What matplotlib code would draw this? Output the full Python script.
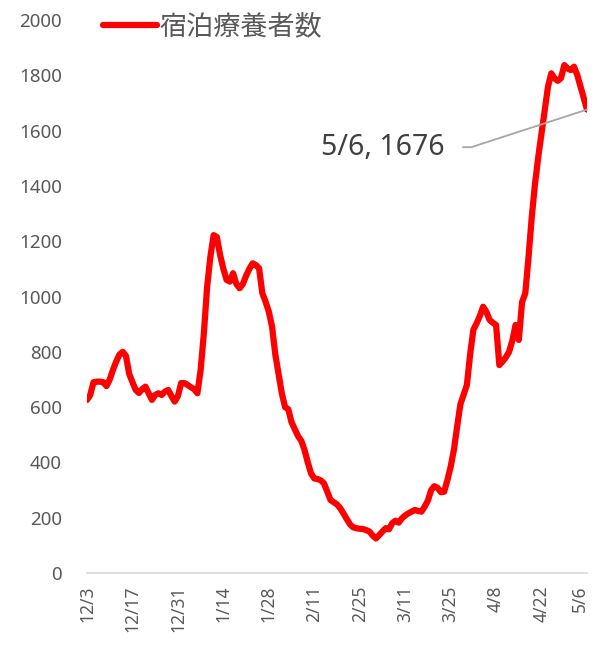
import numpy as np
import matplotlib
matplotlib.use("Agg")
import matplotlib.pyplot as plt
import matplotlib.transforms as mtransforms

plt.rcParams["font.family"] = ["Noto Sans", "Noto Sans CJK JP", "DejaVu Sans"]

# daily values, 12/3 .. 5/6
values = [
    626, 644, 690, 692, 692, 690, 676, 700, 735, 765,
    790, 800, 785, 720, 690, 662, 651, 665, 674, 650,
    626, 644, 650, 644, 656, 662, 640, 620, 640, 687,
    687, 680, 672, 665, 650, 734, 868, 1035, 1144, 1222,
    1215, 1150, 1100, 1060, 1054, 1084, 1045, 1030, 1045, 1075,
    1100, 1120, 1114, 1102, 1012, 981, 945, 890, 790, 720,
    650, 600, 592, 545, 520, 495, 478, 445, 400, 360,
    342, 340, 335, 324, 294, 264, 256, 248, 234, 215,
    195, 176, 165, 162, 160, 159, 155, 150, 135, 125,
    137, 150, 162, 158, 180, 189, 182, 198, 208, 216,
    222, 228, 224, 222, 240, 262, 300, 314, 308, 292,
    294, 336, 384, 445, 529, 610, 645, 680, 790, 880,
    903, 930, 963, 945, 915, 905, 897, 752, 765, 780,
    800, 840, 897, 843, 980, 1012, 1144, 1289, 1409, 1506,
    1590, 1675, 1760, 1807, 1789, 1780, 1790, 1837, 1825, 1819,
    1831, 1801, 1759, 1717, 1676,
]
tick_labels = ["12/3", "12/17", "12/31", "1/14", "1/28", "2/11",
               "2/25", "3/11", "3/25", "4/8", "4/22", "5/6"]
series_name = "宿泊療養者数"
last_label = "5/6, 1676"

x = np.arange(len(values))
grey = "#595959"

fig = plt.figure(figsize=(5.94, 6.48), dpi=100)
ax = fig.add_axes([87 / 594, 1 - 573 / 648, 500 / 594, 553 / 648])

ax.plot(x, values, color="#ff0000", lw=4.5, solid_joinstyle="round",
        solid_capstyle="round", label=series_name)

ax.set_xlim(0, len(values) - 1)
ax.set_ylim(0, 2000)
ax.set_yticks(range(0, 2001, 200))
ax.set_xticks(x[::14])
ax.set_xticklabels(tick_labels, rotation=90)
ax.tick_params(length=0, colors=grey)
ax.tick_params(axis="y", pad=18, labelsize=13.5)
ax.tick_params(axis="x", pad=9, labelsize=12.5)

# nudge the last date label so it stays inside the picture
fig.canvas.draw()
last = ax.get_xticklabels()[-1]
last.set_transform(last.get_transform() +
                   mtransforms.ScaledTranslation(-5 / 72, 0, fig.dpi_scale_trans))

for s in ["top", "right", "left"]:
    ax.spines[s].set_visible(False)
ax.spines["bottom"].set_color("#d9d9d9")
ax.spines["bottom"].set_linewidth(1.2)

ax.annotate(last_label, xy=(x[-1], values[-1]), xytext=(0.592, 0.77),
            textcoords="axes fraction", ha="center", va="center",
            fontsize=20.5, color="#404040",
            arrowprops=dict(arrowstyle="-", color="#a6a6a6", lw=1.3,
                            shrinkA=11, shrinkB=0,
                            connectionstyle="angle,angleA=0,angleB=18,rad=0"))

ax.legend(loc="upper left", bbox_to_anchor=(0.032, 1.012), frameon=False,
          borderaxespad=0, borderpad=0, handlelength=2.0, handletextpad=0.1,
          prop={"size": 19.5}, labelcolor=grey)

fig.savefig("out.png", dpi=100)
